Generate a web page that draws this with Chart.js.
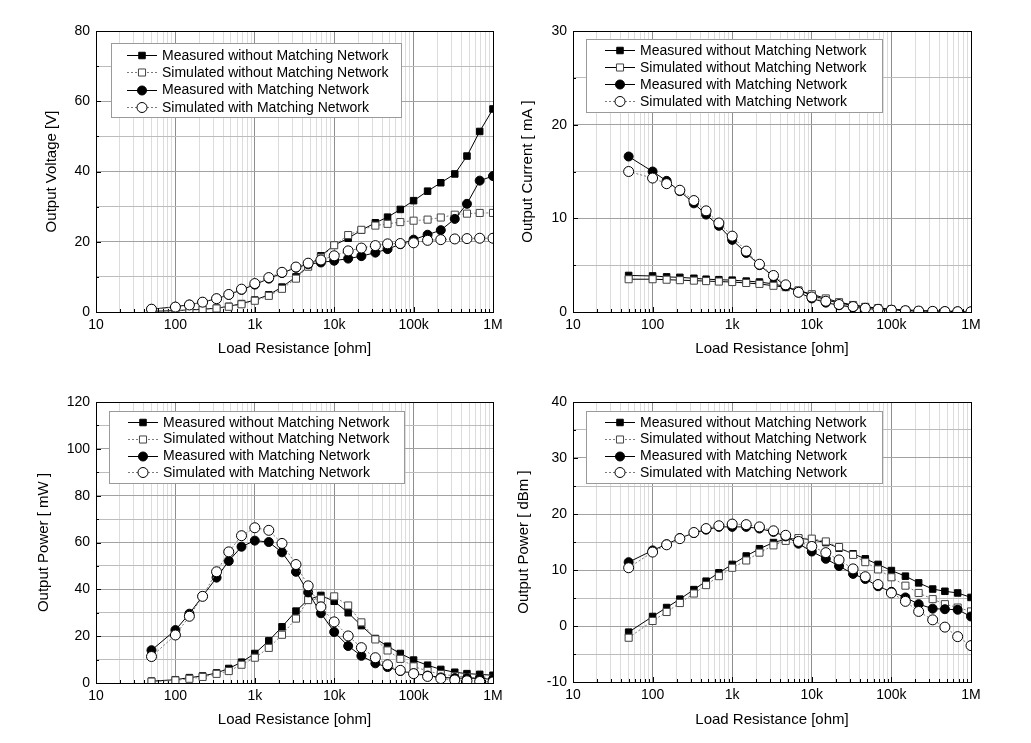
<!DOCTYPE html>
<html>
<head>
<meta charset="utf-8">
<script src="https://cdn.jsdelivr.net/npm/chart.js@4/dist/chart.umd.min.js"></script>
<style>
    body { margin: 0; background: #fff; }
    #wrap { position: relative; width: 1031px; height: 743px; }
    canvas { position: absolute; }
</style>
</head>
<body>
<div id="wrap">
    <canvas id="c1" width="515" height="370" style="left:0;top:0"></canvas>
    <canvas id="c2" width="516" height="370" style="left:515px;top:0"></canvas>
    <canvas id="c3" width="515" height="373" style="left:0;top:370px"></canvas>
    <canvas id="c4" width="516" height="373" style="left:515px;top:370px"></canvas>
</div>
<script>
// Load resistance values (ohm), same for every series
const resistance = [50, 100, 150, 220, 330, 470, 680, 1000, 1500, 2200, 3300, 4700, 6800,
    10000, 15000, 22000, 33000, 47000, 68000, 100000, 150000, 220000, 330000, 470000, 680000, 1000000];

const xTickValues = [10, 100, 1000, 10000, 100000, 1000000];
const xTickLabels = ['10', '100', '1k', '10k', '100k', '1M'];

const seriesNames = [
    'Measured without Matching Network',
    'Simulated without Matching Network',
    'Measured with Matching Network',
    'Simulated with Matching Network'
];

// Output voltage [V]
const voltMeasNoMatch = [0.2, 0.4, 0.6, 0.8, 1.1, 1.6, 2.4, 3.4, 4.9, 7.1, 10, 13, 16, 19, 21, 23.3, 25.4, 27, 29.2, 31.7, 34.4, 36.8, 39.3, 44.4, 51.4, 57.8];
const voltSimNoMatch = [0.2, 0.3, 0.5, 0.7, 1.0, 1.5, 2.2, 3.2, 4.6, 6.6, 9.5, 12.9, 15.5, 19, 21.9, 23.4, 24.6, 25.1, 25.6, 26, 26.3, 26.9, 27.7, 28, 28.2, 28.2];
const voltMeasMatch = [0.8, 1.5, 2.1, 2.8, 3.8, 4.9, 6.3, 7.8, 9.5, 11.1, 12.6, 13.6, 14.1, 14.6, 15.2, 15.9, 16.9, 17.9, 19.3, 20.6, 22, 23.3, 26.5, 30.8, 37.4, 38.7];
const voltSimMatch = [0.8, 1.4, 2.0, 2.8, 3.8, 5.0, 6.5, 8.1, 9.8, 11.3, 12.8, 13.9, 14.8, 16, 17.4, 18.2, 18.9, 19.4, 19.5, 19.7, 20.4, 20.6, 20.8, 20.9, 21, 21];

// Output current [mA]
const currMeasNoMatch = [3.9, 3.85, 3.75, 3.7, 3.6, 3.5, 3.45, 3.4, 3.3, 3.2, 3.0, 2.7, 2.3, 1.8, 1.3, 0.96, 0.7, 0.55, 0.42, 0.3, 0.22, 0.16, 0.12, 0.09, 0.07, 0.055];
const currSimNoMatch = [3.5, 3.5, 3.45, 3.4, 3.35, 3.3, 3.25, 3.2, 3.1, 3.0, 2.8, 2.65, 2.3, 1.9, 1.45, 1.05, 0.75, 0.55, 0.38, 0.26, 0.17, 0.12, 0.085, 0.06, 0.042, 0.028];
const currMeasMatch = [16.6, 15.0, 14.0, 12.9, 11.6, 10.4, 9.2, 7.7, 6.3, 5.0, 3.8, 2.75, 2.1, 1.45, 1.0, 0.72, 0.51, 0.38, 0.28, 0.2, 0.15, 0.1, 0.08, 0.065, 0.055, 0.039];
const currSimMatch = [15.0, 14.3, 13.7, 13.0, 11.9, 10.8, 9.5, 8.1, 6.5, 5.1, 3.9, 2.9, 2.1, 1.6, 1.15, 0.8, 0.58, 0.4, 0.29, 0.2, 0.14, 0.1, 0.07, 0.05, 0.035, 0.025];

// Output power [mW]
const powMwMeasNoMatch = [0.8, 1.4, 2.3, 3.0, 4.3, 6.2, 8.9, 12.6, 18, 24, 30.7, 35.6, 37.4, 34.9, 30, 24.5, 19, 15.7, 12.6, 9.8, 7.6, 5.8, 4.6, 4.0, 3.7, 3.3];
const powMwSimNoMatch = [0.6, 1.1, 1.8, 2.6, 3.9, 5.1, 7.8, 10.8, 15, 20.6, 27.5, 35.4, 36, 37, 33.1, 25.9, 18.6, 13.9, 10.3, 7.1, 5.1, 3.8, 3.0, 2.5, 2.1, 1.8];
const powMwMeasMatch = [14, 22.6, 29.6, 37.1, 45, 52.1, 58.2, 60.8, 60.2, 55.8, 47.5, 38.7, 29.8, 21.8, 15.8, 11.6, 8.4, 6.8, 5.1, 4.1, 3.2, 2.4, 2.1, 2.0, 2.0, 1.5];
const powMwSimMatch = [11.3, 20.5, 28.5, 37, 47.5, 56, 62.9, 66.3, 65.2, 59.6, 50.6, 41.5, 32.5, 26.1, 20.1, 15.1, 10.8, 7.8, 5.4, 4.0, 2.8, 1.9, 1.3, 0.95, 0.65, 0.44];

// Output power [dBm]
const powDbmMeasNoMatch = [-1.1, 1.7, 3.3, 4.8, 6.5, 8.0, 9.5, 11, 12.5, 13.8, 14.9, 15.5, 15.7, 15.4, 14.9, 13.9, 12.9, 12.0, 11.0, 9.9, 8.9, 7.7, 6.6, 6.2, 5.9, 5.1];
const powDbmSimNoMatch = [-2.1, 0.9, 2.5, 4.1, 5.8, 7.3, 8.9, 10.4, 11.7, 13.1, 14.4, 15.2, 15.7, 15.6, 15.1, 14.1, 12.7, 11.4, 10.1, 8.7, 7.2, 5.9, 4.8, 3.9, 3.3, 2.6];
const powDbmMeasMatch = [11.4, 13.5, 14.6, 15.7, 16.6, 17.2, 17.7, 17.7, 17.7, 17.4, 16.8, 16.0, 14.7, 13.3, 12.0, 10.7, 9.3, 8.4, 7.1, 6.1, 5.1, 3.9, 3.1, 3.0, 2.9, 1.7];
const powDbmSimMatch = [10.4, 13.2, 14.5, 15.6, 16.7, 17.4, 17.9, 18.2, 18.1, 17.7, 17.0, 16.2, 15.1, 14.2, 13.1, 11.8, 10.2, 8.8, 7.4, 5.9, 4.4, 2.6, 1.1, -0.2, -1.9, -3.5];

const FONT = 'Arial, "Liberation Sans", sans-serif';
const TITLE_SIZE = 15;
const LINE_H = TITLE_SIZE * 1.2;

function isDecade(v) {
    const l = Math.log10(v);
    return Math.abs(l - Math.round(l)) < 1e-9;
}

// positions of the log grid: 1..9 for each decade
function logGridValues() {
    let vals = [];
    for (let d = 10; d < 1000000; d *= 10) {
        for (let s = 1; s < 10; s++) vals.push(d * s);
    }
    vals.push(1000000);
    return vals;
}

function makeDatasets(values, simNoMatchSolid) {
    const styles = [
        {line: '#000', dash: [], style: 'rect', r: 4.6, fill: '#000', edge: '#000', order: 4},
        {line: simNoMatchSolid ? '#000' : '#7a7a7a', dash: simNoMatchSolid ? [] : [2, 2], style: 'rect', r: 5, fill: '#fff', edge: '#444', order: 3},
        {line: '#000', dash: [], style: 'circle', r: 4.5, fill: '#000', edge: '#000', order: 2},
        {line: '#7a7a7a', dash: [2, 2], style: 'circle', r: 5, fill: '#fff', edge: '#000', order: 1}
    ];
    return values.map((vals, i) => {
        const s = styles[i];
        return {
            label: seriesNames[i],
            data: resistance.map((r, k) => ({x: r, y: vals[k]})),
            borderColor: s.line,
            borderWidth: 1,
            borderDash: s.dash,
            pointStyle: s.style,
            pointRadius: s.r,
            pointBackgroundColor: s.fill,
            pointBorderColor: s.edge,
            pointBorderWidth: 1,
            tension: 0,
            order: s.order
        };
    });
}

// frame, inner tick marks and boxed legend
const framePlugin = {
    id: 'frame',
    beforeDatasetsDraw(chart) {
        const ctx = chart.ctx;
        const a = chart.chartArea;
        const xs = chart.scales.x, ys = chart.scales.y;
        const o = chart.options.plugins.frame;
        ctx.save();
        ctx.strokeStyle = '#000';
        ctx.lineWidth = 1;
        ctx.beginPath();
        xs.ticks.forEach(t => {
            const px = Math.round(xs.getPixelForValue(t.value)) + 0.5;
            const len = isDecade(t.value) ? 5 : 3;
            ctx.moveTo(px, a.bottom);
            ctx.lineTo(px, a.bottom - len);
        });
        ys.ticks.forEach(t => {
            const py = Math.round(ys.getPixelForValue(t.value)) + 0.5;
            const len = (t.value % o.yLabelStep === 0) ? 5 : 3;
            ctx.moveTo(a.left, py);
            ctx.lineTo(a.left + len, py);
        });
        ctx.stroke();
        ctx.restore();
    },
    afterDatasetsDraw(chart) {
        const ctx = chart.ctx;
        const a = chart.chartArea;
        const lg = chart.options.plugins.frame.legend;
        ctx.save();
        ctx.strokeStyle = '#000';
        ctx.lineWidth = 1;
        ctx.strokeRect(Math.round(a.left) + 0.5, Math.round(a.top) + 0.5,
            Math.round(a.right - a.left), Math.round(a.bottom - a.top));

        // legend box
        ctx.fillStyle = '#fff';
        ctx.fillRect(lg.x, lg.y, lg.w, lg.h);
        ctx.strokeStyle = '#9a9a9a';
        ctx.strokeRect(lg.x + 0.5, lg.y + 0.5, lg.w, lg.h);
        ctx.font = '14px ' + FONT;
        ctx.textBaseline = 'middle';
        ctx.textAlign = 'left';
        chart.data.datasets.forEach((ds, i) => {
            const y = lg.y + lg.row0 + i * lg.gap;
            const x0 = lg.x + lg.sample;
            ctx.strokeStyle = ds.borderColor;
            ctx.setLineDash(ds.borderDash);
            ctx.beginPath();
            ctx.moveTo(x0, Math.round(y) + 0.5);
            ctx.lineTo(x0 + 30, Math.round(y) + 0.5);
            ctx.stroke();
            ctx.setLineDash([]);
            ctx.fillStyle = ds.pointBackgroundColor;
            ctx.strokeStyle = ds.pointBorderColor;
            ctx.lineWidth = 1;
            Chart.helpers.drawPoint(ctx, {pointStyle: ds.pointStyle, radius: ds.pointRadius, borderWidth: 1, rotation: 0}, x0 + 15, Math.round(y) + 0.5);
            ctx.fillStyle = '#000';
            ctx.fillText(ds.label, x0 + 35, y + 1);
        });
        ctx.restore();
    }
};

function createPanel(canvasId, p) {
    const canvas = document.getElementById(canvasId);
    const w = canvas.width, h = canvas.height;
    const xGrid = logGridValues();

    const config = {
        type: 'line',
        data: {datasets: makeDatasets(p.values, p.simNoMatchSolid)},
        options: {
            responsive: false,
            animation: false,
            layout: {padding: {left: 0, top: p.area.top, right: w - p.area.right, bottom: 0}},
            plugins: {
                legend: {display: false},
                tooltip: {enabled: false},
                frame: {legend: p.legend, yLabelStep: p.yLabelStep}
            },
            scales: {
                x: {
                    type: 'logarithmic',
                    min: 10,
                    max: 1000000,
                    afterBuildTicks: (scale) => { scale.ticks = xGrid.map(v => ({value: v})); },
                    afterFit: (scale) => { scale.height = h - p.area.bottom; },
                    border: {display: false},
                    grid: {
                        drawTicks: false,
                        lineWidth: 1,
                        color: (c) => isDecade(c.tick.value) ? '#8e8e8e' : '#dcdcdc'
                    },
                    ticks: {
                        autoSkip: false,
                        maxRotation: 0,
                        padding: 5,
                        color: '#000',
                        font: {family: FONT, size: 14},
                        callback: (v) => {
                            const k = xTickValues.findIndex(t => Math.abs(t - v) < 1e-6);
                            return k >= 0 ? xTickLabels[k] : '';
                        }
                    },
                    title: {
                        display: true,
                        text: 'Load Resistance [ohm]',
                        color: '#000',
                        font: {family: FONT, size: TITLE_SIZE},
                        padding: {top: 0, bottom: h - p.xTitleY - LINE_H / 2}
                    }
                },
                y: {
                    min: p.yMin,
                    max: p.yMax,
                    afterFit: (scale) => { scale.width = p.area.left; },
                    border: {display: false},
                    grid: {
                        drawTicks: false,
                        lineWidth: 1,
                        color: (c) => (c.tick.value % p.yLabelStep === 0) ? '#a2a2a2' : '#bcbcbc'
                    },
                    ticks: {
                        stepSize: p.yStep,
                        autoSkip: false,
                        padding: 6,
                        color: '#000',
                        font: {family: FONT, size: 14},
                        callback: (v) => (v % p.yLabelStep === 0) ? String(v) : ''
                    },
                    title: {
                        display: true,
                        text: p.yTitle,
                        color: '#000',
                        font: {family: FONT, size: TITLE_SIZE},
                        padding: {top: p.yTitleX - LINE_H / 2, bottom: 0}
                    }
                }
            }
        },
        plugins: [framePlugin]
    };

    new Chart(canvas, config);
}

createPanel('c1', {
    yTitle: 'Output Voltage [V]', yMin: 0, yMax: 80, yStep: 10, yLabelStep: 20,
    values: [voltMeasNoMatch, voltSimNoMatch, voltMeasMatch, voltSimMatch],
    area: {left: 96, right: 493, top: 31, bottom: 312},
    yTitleX: 51.5, xTitleY: 349,
    legend: {x: 111, y: 43, w: 290, h: 74, row0: 12, gap: 17.3, sample: 16}
});

createPanel('c2', {
    yTitle: 'Output Current [ mA ]', yMin: 0, yMax: 30, yStep: 5, yLabelStep: 10,
    values: [currMeasNoMatch, currSimNoMatch, currMeasMatch, currSimMatch],
    simNoMatchSolid: true,
    area: {left: 58, right: 456, top: 31, bottom: 312},
    yTitleX: 13, xTitleY: 349,
    legend: {x: 71, y: 39, w: 296, h: 73, row0: 11, gap: 17.1, sample: 19}
});

createPanel('c3', {
    yTitle: 'Output Power [ mW ]', yMin: 0, yMax: 120, yStep: 10, yLabelStep: 20,
    values: [powMwMeasNoMatch, powMwSimNoMatch, powMwMeasMatch, powMwSimMatch],
    area: {left: 96, right: 493, top: 32, bottom: 313},
    yTitleX: 43.5, xTitleY: 350,
    legend: {x: 109, y: 41, w: 295, h: 72, row0: 10.7, gap: 16.9, sample: 19}
});

createPanel('c4', {
    yTitle: 'Output Power [ dBm ]', yMin: -10, yMax: 40, yStep: 5, yLabelStep: 10,
    values: [powDbmMeasNoMatch, powDbmSimNoMatch, powDbmMeasMatch, powDbmSimMatch],
    area: {left: 58, right: 456, top: 32, bottom: 312},
    yTitleX: 8.5, xTitleY: 350,
    legend: {x: 71, y: 41, w: 296, h: 72, row0: 10.7, gap: 16.9, sample: 19}
});
</script>
</body>
</html>
